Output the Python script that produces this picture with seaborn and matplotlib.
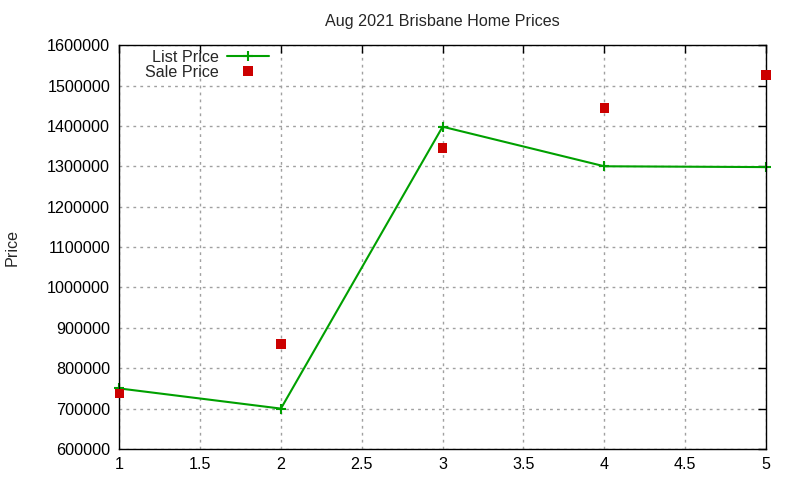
import matplotlib
matplotlib.use("Agg")
import matplotlib.pyplot as plt
import seaborn as sns
import pandas as pd
from matplotlib.ticker import MultipleLocator, FormatStrFormatter
from matplotlib.lines import Line2D

sns.set_style("white")
plt.rcParams['font.family'] = ['Liberation Sans', 'DejaVu Sans']

x_vals = [1, 2, 3, 4, 5]
list_price = [750000, 700000, 1398000, 1300000, 1298000]
sale_price = [738000, 860000, 1345000, 1444000, 1526000]

df = pd.DataFrame({"x": x_vals, "List Price": list_price, "Sale Price": sale_price})

fig = plt.figure(figsize=(8, 4.8), dpi=100)
ax = fig.add_axes([0.149, 0.0646, 0.8085, 0.8414])

green = "#00a000"
red = "#cc0000"
FS = 11.6
sns.lineplot(data=df, x="x", y="List Price", ax=ax, color=green, lw=1.5,
             marker="+", markersize=7, markeredgewidth=1.5, markeredgecolor=green,
             clip_on=False, legend=False)
sns.scatterplot(data=df, x="x", y="Sale Price", ax=ax, color=red, marker="s",
                s=45, edgecolor="none", zorder=3, clip_on=False, legend=False)

ax.set_xlim(1, 5)
ax.set_ylim(600000, 1600000)
ax.xaxis.set_major_locator(MultipleLocator(0.5))
ax.yaxis.set_major_locator(MultipleLocator(100000))
ax.xaxis.set_major_formatter(matplotlib.ticker.FuncFormatter(lambda v, p: f"{v:g}"))
ax.yaxis.set_major_formatter(FormatStrFormatter("%d"))
ax.grid(True, color="#a0a0a0", linestyle=(0, (2, 3)), linewidth=1)
ax.tick_params(direction="in", length=6, width=1, top=True, right=True,
               labelsize=FS, colors="black")
ax.tick_params(axis="y", pad=6.5)
ax.tick_params(axis="x", pad=5.5)
for s in ax.spines.values():
    s.set_color("black")
    s.set_linewidth(1)
ax.set_xlabel("")
ax.set_ylabel("Price", fontsize=FS, labelpad=20)
ax.set_title("Aug 2021 Brisbane Home Prices", fontsize=FS, pad=14)

handles = [
    Line2D([], [], color=green, lw=1.5, marker="+", markersize=7,
           markeredgewidth=1.5),
    Line2D([], [], color=red, lw=0, marker="s", markersize=6.7,
           markeredgewidth=0),
]
leg = ax.legend(handles, ["List Price", "Sale Price"], loc="upper left",
                bbox_to_anchor=(0.025, 1.012), frameon=False, numpoints=1,
                markerfirst=False, fontsize=FS, handlelength=2.6,
                labelspacing=0.0, borderaxespad=0.2, handletextpad=0.5)
fig.savefig("out.png", dpi=100)
